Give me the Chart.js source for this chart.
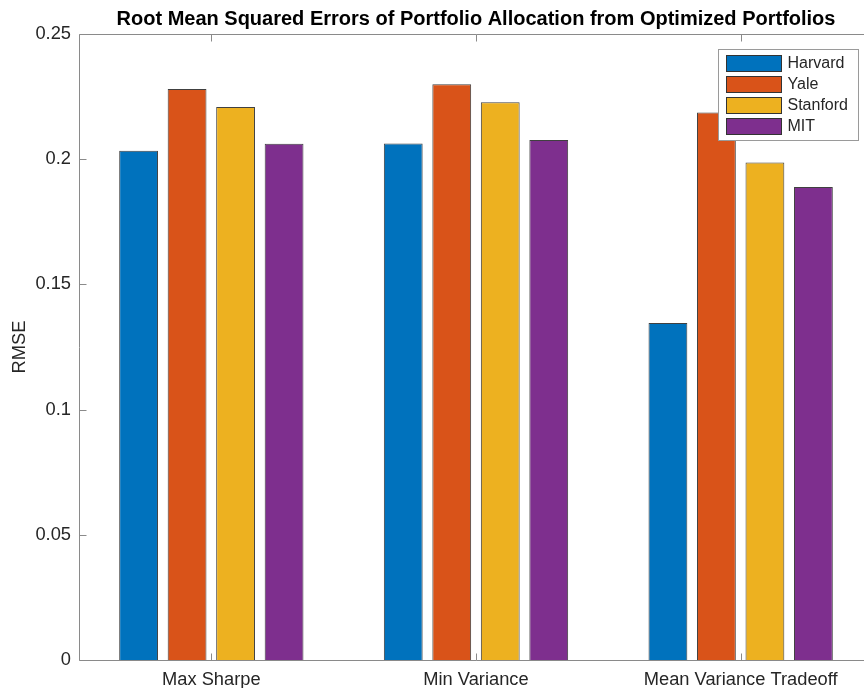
<!DOCTYPE html>
<html>
<head>
<meta charset="utf-8">
<script src="https://cdn.jsdelivr.net/npm/chart.js@4.4.1/dist/chart.umd.min.js"></script>
<style>
  html, body { margin: 0; padding: 0; background: #fff; overflow: hidden; width: 864px; height: 688px; }
  #wrap { width: 890px; height: 688px; }
</style>
</head>
<body>
<div id="wrap"><canvas id="c" width="890" height="688"></canvas></div>
<script>
const categories = ['Max Sharpe', 'Min Variance', 'Mean Variance Tradeoff'];
const seriesNames = ['Harvard', 'Yale', 'Stanford', 'MIT'];
const harvard = [0.2034, 0.2063, 0.1346];
const yale = [0.2280, 0.2299, 0.2187];
const stanford = [0.2208, 0.2227, 0.1987];
const mit = [0.2062, 0.2077, 0.1889];
const yTicks = [0, 0.05, 0.1, 0.15, 0.2, 0.25];
const colors = ['#0072BD', '#D95319', '#EDB120', '#7E2F8E'];

const FONT = "'Liberation Sans', Arial, Helvetica, sans-serif";
Chart.defaults.font.family = FONT;

const AXIS_COLOR = '#8a8a8a';

const boxPlugin = {
  id: 'matlabBox',
  afterDatasetsDraw(chart) {
    const ctx = chart.ctx;
    const a = chart.chartArea;
    const xs = chart.scales.x, ys = chart.scales.y;
    ctx.save();
    ctx.strokeStyle = AXIS_COLOR;
    ctx.lineWidth = 1;
    const L = Math.round(a.left) + 0.5, R = Math.round(a.right) + 0.5;
    const T = Math.round(a.top) + 0.5, B = Math.round(a.bottom) + 0.5;
    ctx.beginPath();
    ctx.rect(L, T, R - L, B - T);
    ctx.stroke();
    const tl = 7;
    ctx.beginPath();
    yTicks.forEach(v => {
      const y = Math.round(ys.getPixelForValue(v)) + 0.5;
      ctx.moveTo(L, y); ctx.lineTo(L + tl, y);
      ctx.moveTo(R, y); ctx.lineTo(R - tl, y);
    });
    categories.forEach((c, i) => {
      const x = Math.round(xs.getPixelForValue(i)) + 0.5;
      ctx.moveTo(x, B); ctx.lineTo(x, B - tl);
      ctx.moveTo(x, T); ctx.lineTo(x, T + tl);
    });
    ctx.stroke();
    ctx.restore();
  },
  afterDraw(chart) {
    const ctx = chart.ctx;
    const a = chart.chartArea;
    const bw = 140, bh = 91;
    const bx = Math.round(a.right - 15 - bw) + 0.5;
    const by = Math.round(a.top + 15) + 0.5;
    ctx.save();
    ctx.fillStyle = '#fff';
    ctx.fillRect(bx, by, bw, bh);
    ctx.strokeStyle = '#9a9a9a';
    ctx.lineWidth = 1;
    ctx.strokeRect(bx, by, bw, bh);
    ctx.font = '16px ' + FONT;
    ctx.textBaseline = 'middle';
    ctx.textAlign = 'left';
    chart.data.datasets.forEach((ds, i) => {
      const cy = by + 13 + i * 21;
      const sx = bx + 8, sy = Math.round(cy - 8) + 0.5;
      ctx.fillStyle = ds.backgroundColor;
      ctx.fillRect(sx, sy, 55, 16);
      ctx.strokeStyle = '#333';
      ctx.strokeRect(sx, sy, 55, 16);
      ctx.fillStyle = '#262626';
      ctx.fillText(ds.label, bx + 69, cy + 1);
    });
    ctx.restore();
  }
};

const seriesData = [harvard, yale, stanford, mit];
const datasets = seriesNames.map((name, i) => ({
  label: name,
  data: seriesData[i],
  backgroundColor: colors[i],
  borderColor: 'rgba(30,30,30,0.85)',
  borderWidth: 1,
  categoryPercentage: 0.733,
  barPercentage: 0.8
}));

new Chart(document.getElementById('c'), {
  type: 'bar',
  data: { labels: categories, datasets },
  options: {
    responsive: false,
    animation: false,
    devicePixelRatio: 1,
    layout: { padding: { left: 0, right: 17, top: 0, bottom: 0 } },
    plugins: {
      legend: { display: false },
      tooltip: { enabled: false },
      title: {
        display: true,
        text: 'Root Mean Squared Errors of Portfolio Allocation from Optimized Portfolios',
        font: { family: FONT, size: 20, weight: 'bold' },
        color: '#000',
        fullSize: false,
        padding: { top: 7.5, bottom: 2.5 }
      }
    },
    scales: {
      x: {
        type: 'category',
        offset: true,
        grid: { display: false, drawTicks: false },
        border: { display: false },
        ticks: { color: '#262626', font: { size: 18.3 }, padding: 9, maxRotation: 0, autoSkip: false },
        afterFit(scale) { scale.height = 28; }
      },
      y: {
        min: 0,
        max: 0.25,
        grid: { display: false, drawTicks: false },
        border: { display: false },
        afterBuildTicks(scale) { scale.ticks = yTicks.map(v => ({ value: v })); },
        ticks: {
          color: '#262626',
          font: { size: 18.3 },
          padding: 8,
          callback: (v) => String(Math.round(v * 100) / 100)
        },
        title: {
          display: true,
          text: 'RMSE',
          color: '#262626',
          font: { size: 18.3 },
          padding: { top: 9, bottom: 0 }
        },
        afterFit(scale) { scale.width = 79; }
      }
    }
  },
  plugins: [boxPlugin]
});
</script>
</body>
</html>
